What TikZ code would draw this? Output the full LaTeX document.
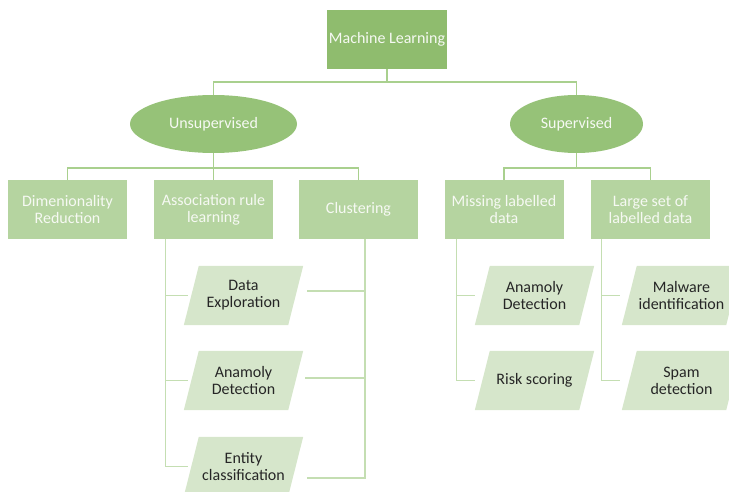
\documentclass[tikz,border=0pt]{standalone}
\usepackage{fontspec}
\setmainfont{Carlito}
\usetikzlibrary{shapes.geometric,backgrounds}

\definecolor{rootgreen}{RGB}{143,188,110}
\definecolor{ellgreen}{RGB}{150,194,120}
\definecolor{midgreen}{RGB}{181,212,160}
\definecolor{leafgreen}{RGB}{214,230,203}
\definecolor{linegreen}{RGB}{169,208,142}
\definecolor{leaflinegreen}{RGB}{196,222,178}
\definecolor{boxtext}{RGB}{246,249,243}
\definecolor{leaftext}{RGB}{38,38,38}

\begin{document}
\begin{tikzpicture}[x=1pt,y=-1pt,
  every node/.style={font=\fontsize{16}{17}\selectfont, align=center, inner sep=0pt},
  rootbox/.style={fill=rootgreen, text=boxtext, minimum width=120pt, minimum height=59pt},
  catell/.style={ellipse, fill=ellgreen, text=boxtext, minimum height=58pt},
  midbox/.style={fill=midgreen, text=boxtext, minimum width=119pt, minimum height=59pt},
  leaf/.style={text=leaftext, minimum width=119pt, minimum height=59pt},
  conn/.style={draw=linegreen, line width=1.5pt},
  leafconn/.style={draw=leaflinegreen, line width=1.1pt}]
\useasboundingbox (0,0) rectangle (729,492);

% top of the hierarchy
\node[rootbox] (ml) at (387,39.5) {Machine Learning};
\node[catell, minimum width=167pt] (uns) at (213.5,124) {Unsupervised};
\node[catell, minimum width=133pt] (sup) at (576.5,124) {Supervised};

% second level
\node[midbox] (dr)  at (67.5,209.5)  {Dimenionality\\Reduction};
\node[midbox] (arl) at (213.5,209.5) {Association rule\\learning};
\node[midbox] (clu) at (358.5,209.5) {Clustering};
\node[midbox] (mld) at (504,209.5)   {Missing labelled\\data};
\node[midbox] (lsd) at (650.5,209.5) {Large set of\\labelled data};

% applications (parallelograms drawn on the background layer)
\node[leaf] (de)  at (243.5,295.5) {Data\\Exploration};
\node[leaf] (ad1) at (243.5,380.5) {Anamoly\\Detection};
\node[leaf] (ec)  at (243.5,466.5) {Entity\\classification};
\node[leaf] (ad2) at (534.5,295.5) {Anamoly\\Detection};
\node[leaf] (rs)  at (534.5,380.5) {Risk scoring};
\node[leaf] (mi)  at (681.5,295.5) {Malware\\identification};
\node[leaf] (sd)  at (681.5,380.5) {Spam\\detection};

\begin{pgfonlayer}{background}
  \foreach \n in {de,ad1,ec,ad2,rs,mi,sd}
    \fill[leafgreen] ([xshift=15pt]\n.north west) -- (\n.north east)
      -- ([xshift=-15pt]\n.south east) -- (\n.south west) -- cycle;
\end{pgfonlayer}

% root to categories
\coordinate (mlbar) at ([yshift=-13pt]ml.south);
\draw[conn] (ml.south) -- (mlbar);
\draw[conn] (uns.north) |- (mlbar) -| (sup.north);

% unsupervised branch
\coordinate (unsbar) at ([yshift=-15pt]uns.south);
\draw[conn] (uns.south) -- (unsbar) -- (arl.north);
\draw[conn] (dr.north) |- (unsbar) -| (clu.north);

% supervised branch
\coordinate (supbar) at ([yshift=-15pt]sup.south);
\draw[conn] (sup.south) -- (supbar);
\draw[conn] (mld.north) |- (supbar) -| (lsd.north);

% association rule learning to its applications
\coordinate (arlstem) at ([xshift=12pt]arl.south west);
\draw[leafconn] (arlstem) |- ([xshift=4pt]ec.west);
\draw[leafconn] (arlstem |- de.west) -- ([xshift=4pt]de.west);
\draw[leafconn] (arlstem |- ad1.west) -- ([xshift=4pt]ad1.west);

% clustering to the same applications
\coordinate (clustem) at ([xshift=6.5pt]clu.south);
\coordinate (deR) at ([xshift=4pt,yshift=4.5pt]de.east);
\coordinate (adR) at ([xshift=2pt,yshift=2.5pt]ad1.east);
\coordinate (ecR) at ([xshift=4pt,yshift=-11.5pt]ec.east);
\draw[leafconn] (clustem) |- (ecR);
\draw[leafconn] (deR) -- (deR -| clustem);
\draw[leafconn] (adR) -- (adR -| clustem);

% missing labelled data
\coordinate (mldstem) at ([xshift=12pt]mld.south west);
\draw[leafconn] (mldstem) |- (rs.west);
\draw[leafconn] (mldstem |- ad2.west) -- (ad2.west);

% large set of labelled data
\coordinate (lsdstem) at ([xshift=11pt]lsd.south west);
\draw[leafconn] (lsdstem) |- ([xshift=-2pt]sd.west);
\draw[leafconn] (lsdstem |- mi.west) -- ([xshift=-2pt]mi.west);
\end{tikzpicture}
\end{document}
